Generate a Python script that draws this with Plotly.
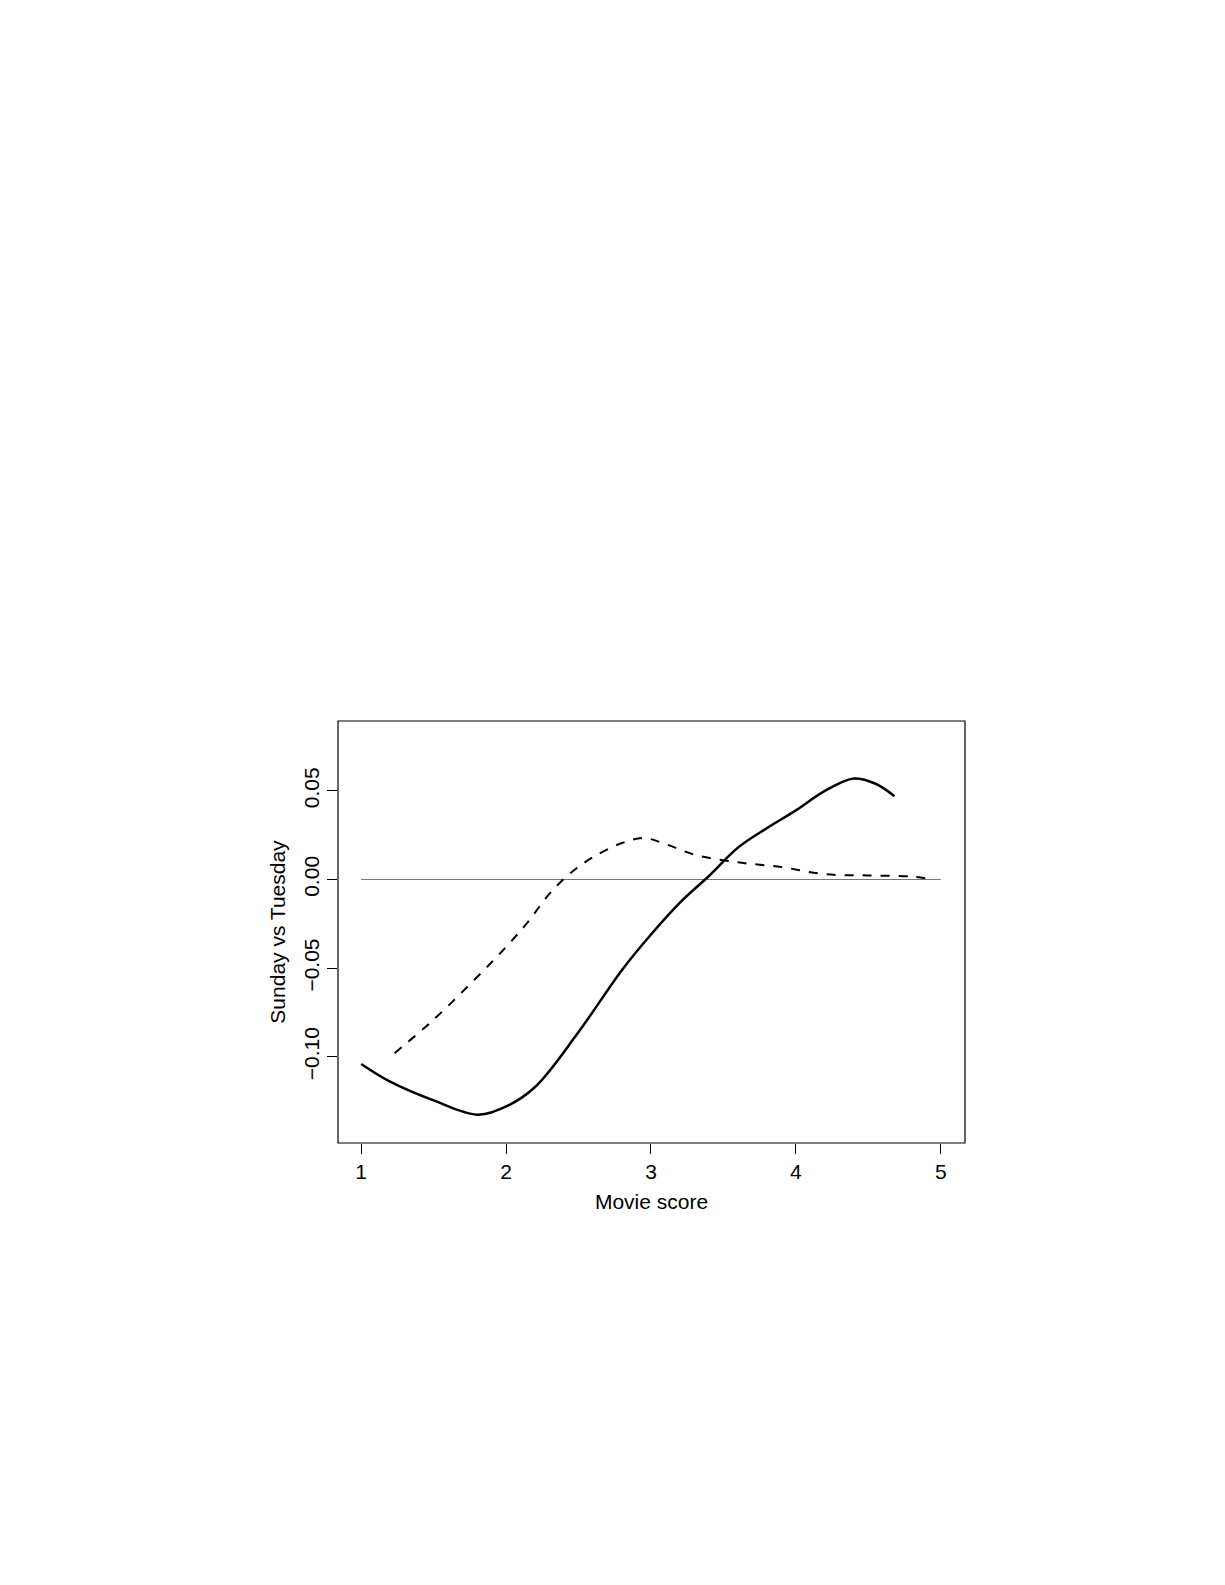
import plotly.graph_objects as go

solid_x = [1.0, 1.2, 1.5, 1.8, 2.0, 2.2, 2.5, 2.8, 3.0, 3.2, 3.4, 3.6, 3.8, 4.0, 4.2, 4.4, 4.55, 4.68]
solid_y = [-0.104, -0.114, -0.1246, -0.1326, -0.128, -0.117, -0.086, -0.051, -0.031, -0.013, 0.002, 0.018, 0.029, 0.039, 0.050, 0.057, 0.054, 0.047]
dash_x = [1.23, 1.5, 1.8, 2.0, 2.15, 2.3, 2.45, 2.6, 2.8, 2.95, 3.1, 3.3, 3.6, 3.9, 4.2, 4.5, 4.8, 4.95]
dash_y = [-0.098, -0.079, -0.055, -0.038, -0.024, -0.008, 0.004, 0.0126, 0.0206, 0.0234, 0.020, 0.014, 0.0097, 0.007, 0.003, 0.0023, 0.0017, 0.0]
ref_x = [1, 5]
ref_y = [0, 0]
xticks = [1, 2, 3, 4, 5]
yticks = [-0.10, -0.05, 0.00, 0.05]
ytick_labels = ["\u22120.10", "\u22120.05", "0.00", "0.05"]

fig = go.Figure()
fig.add_trace(go.Scatter(x=ref_x, y=ref_y, mode="lines", line=dict(color="#777", width=1.2)))
fig.add_trace(go.Scatter(x=solid_x, y=solid_y, mode="lines", line=dict(color="black", width=2.5, shape="spline")))
fig.add_trace(go.Scatter(x=dash_x, y=dash_y, mode="lines", line=dict(color="black", width=2, dash="dash", shape="spline")))
font = dict(family="Liberation Sans, Arial", size=21, color="black")
fig.update_layout(
    width=1225, height=1585, showlegend=False,
    paper_bgcolor="white", plot_bgcolor="white",
    margin=dict(l=330, r=268, t=713, b=450),
    font=font,
    xaxis=dict(range=[0.84, 5.167], tickvals=xticks, ticks="outside", ticklen=10, tickcolor="black",
               showgrid=False, zeroline=False, showline=False, title=dict(text="Movie score", font=font, standoff=12)),
    yaxis=dict(range=[-0.1486, 0.0894], tickvals=yticks, ticktext=ytick_labels, tickangle=-90,
               ticks="outside", ticklen=10, tickcolor="black",
               showgrid=False, zeroline=False, showline=False, title=dict(text="Sunday vs Tuesday", font=font, standoff=8)),
    shapes=[dict(type="rect", xref="paper", yref="paper", x0=0, x1=1, y0=0, y1=1, line=dict(color="black", width=1.2))],
)
fig.write_html("out.html")
